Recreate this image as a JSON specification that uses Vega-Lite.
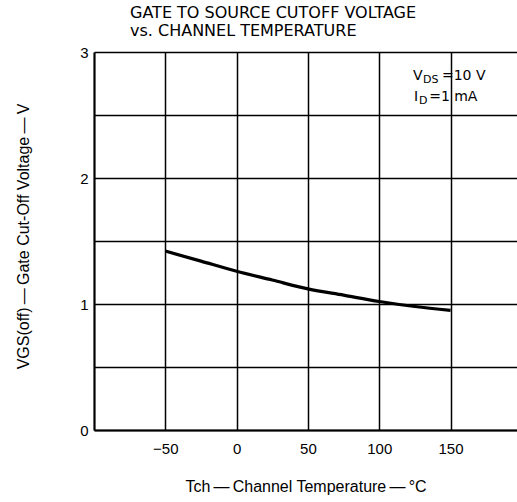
{
  "$schema": "https://vega.github.io/schema/vega-lite/v6.json",
  "width": 423,
  "height": 378,
  "autosize": {"type": "none"},
  "padding": {"left": 94, "top": 52, "right": 0, "bottom": 72},
  "background": "white",
  "config": {
    "view": {"stroke": null},
    "font": "Liberation Sans",
    "axis": {"labelFont": "Liberation Sans", "titleFont": "Liberation Sans", "labelColor": "black", "titleColor": "black"}
  },
  "title": {
    "text": ["GATE TO SOURCE CUTOFF VOLTAGE", "vs. CHANNEL TEMPERATURE"],
    "anchor": "start",
    "frame": "group",
    "dx": 36,
    "offset": 6,
    "font": "DejaVu Sans",
    "fontSize": 16,
    "fontWeight": "normal",
    "lineHeight": 18,
    "color": "black"
  },
  "datasets": {
    "curve": [
      {"T": -50, "V": 1.42},
      {"T": -25, "V": 1.34},
      {"T": 0, "V": 1.26},
      {"T": 25, "V": 1.19},
      {"T": 50, "V": 1.12},
      {"T": 75, "V": 1.07},
      {"T": 100, "V": 1.02},
      {"T": 125, "V": 0.98},
      {"T": 150, "V": 0.95}
    ],
    "main": [
      {"T": 123.7, "V": 2.81, "t": "V"},
      {"T": 124.4, "V": 2.643, "t": "I"}
    ],
    "sub": [
      {"T": 130.7, "V": 2.81, "t": "DS"},
      {"T": 127.9, "V": 2.643, "t": "D"}
    ],
    "rest": [
      {"T": 144.0, "V": 2.81, "t": "=10 V"},
      {"T": 135.0, "V": 2.643, "t": "=1 mA"}
    ]
  },
  "layer": [
    {
      "data": {"name": "curve"},
      "mark": {"type": "line", "color": "black", "strokeWidth": 3.2, "interpolate": "monotone"},
      "encoding": {
        "x": {
          "field": "T", "type": "quantitative",
          "scale": {"domain": [-100, 196.6], "nice": false, "zero": false},
          "axis": {
            "values": [-50, 0, 50, 100, 150],
            "title": "Tch\u2009\u2014\u2009Channel Temperature\u2009\u2014\u2009°C",
            "titleFontSize": 16,
            "titleFontWeight": "normal",
            "titlePadding": 22,
            "labelFontSize": 15,
            "labelPadding": 11,
            "labelExpr": "replace(datum.label, '-', '\u2212')",
            "ticks": false,
            "domainColor": "black",
            "domainWidth": 2.2,
            "grid": true,
            "gridColor": "black",
            "gridWidth": 1.5,
            "gridOpacity": 1
          }
        },
        "y": {
          "field": "V", "type": "quantitative",
          "scale": {"domain": [0, 3], "nice": false},
          "axis": {
            "values": [0, 0.5, 1, 1.5, 2, 2.5, 3],
            "labelExpr": "datum.value % 1 == 0 ? format(datum.value, 'd') : ''",
            "title": "VGS(off)\u2009\u2014\u2009Gate Cut-Off Voltage\u2009\u2014\u2009V",
            "titleFontSize": 16,
            "titleFontWeight": "normal",
            "titleAnchor": "middle",
            "titleX": -71,
            "titleY": 184,
            "titleAngle": 270,
            "titleAlign": "center",
            "titleBaseline": "middle",
            "labelFontSize": 15,
            "labelPadding": 6,
            "ticks": false,
            "domainColor": "black",
            "domainWidth": 2.2,
            "grid": true,
            "gridColor": "black",
            "gridWidth": 1.5,
            "gridOpacity": 1
          }
        }
      }
    },
    {
      "data": {"name": "main"},
      "mark": {"type": "text", "align": "left", "baseline": "middle", "font": "DejaVu Sans", "fontSize": 14, "color": "black"},
      "encoding": {
        "x": {"field": "T", "type": "quantitative"},
        "y": {"field": "V", "type": "quantitative"},
        "text": {"field": "t"}
      }
    },
    {
      "data": {"name": "sub"},
      "mark": {"type": "text", "align": "left", "baseline": "middle", "font": "DejaVu Sans", "fontSize": 11, "dy": 4, "color": "black"},
      "encoding": {
        "x": {"field": "T", "type": "quantitative"},
        "y": {"field": "V", "type": "quantitative"},
        "text": {"field": "t"}
      }
    },
    {
      "data": {"name": "rest"},
      "mark": {"type": "text", "align": "left", "baseline": "middle", "font": "DejaVu Sans", "fontSize": 14, "color": "black"},
      "encoding": {
        "x": {"field": "T", "type": "quantitative"},
        "y": {"field": "V", "type": "quantitative"},
        "text": {"field": "t"}
      }
    }
  ]
}
